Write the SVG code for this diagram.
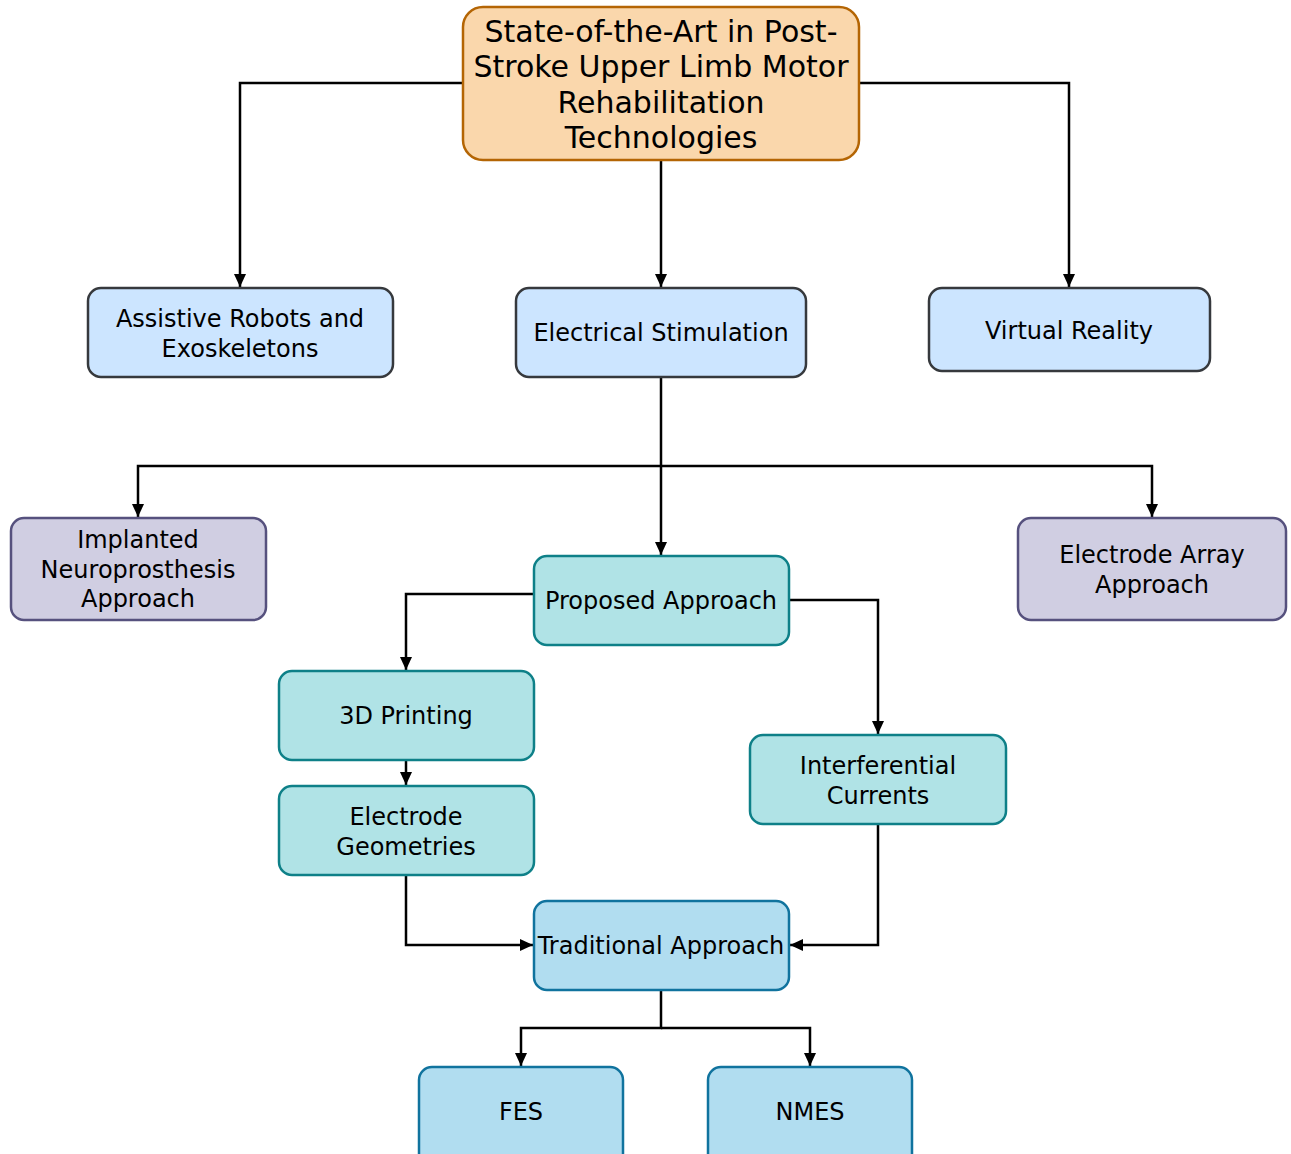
<svg xmlns="http://www.w3.org/2000/svg" width="1291" height="1154" viewBox="0 0 1291 1154">
<defs>
<marker id="arr" markerWidth="14" markerHeight="14" refX="13" refY="7" orient="auto" markerUnits="userSpaceOnUse">
<path d="M0,1 L13,7 L0,13 Z" fill="#000"/>
</marker>
<style>
text{font-family:"DejaVu Sans","Verdana",sans-serif;font-size:24px;fill:#000;text-anchor:middle}
.t{font-size:30px}
rect{stroke-width:2.5}
.o{fill:#fad7ac;stroke:#b46504}
.b{fill:#cce5ff;stroke:#36393d}
.p{fill:#d0cee2;stroke:#56517e}
.g{fill:#b0e3e6;stroke:#0e8088}
.c{fill:#b1ddf0;stroke:#10739e}
.e path{fill:none;stroke:#000;stroke-width:2.5;marker-end:url(#arr)}
</style>
</defs>
<rect width="1291" height="1154" fill="#fff"/>
<g class="e" id="connectors">
<path d="M463,83 H240 V287"/>
<path d="M859,83 H1069 V287"/>
<path d="M661,160 V287"/>
<path d="M661,377 V555"/>
<path d="M661,466 H138 V517"/>
<path d="M661,466 H1152 V517"/>
<path d="M534,594 H406 V670"/>
<path d="M789,600 H878 V734"/>
<path d="M406,760 V785"/>
<path d="M406,875 V945 H533"/>
<path d="M878,824 V945 H790"/>
<path d="M661,990 V1028 H521 V1066"/>
<path d="M661,1028 H810 V1066"/>
</g>
<g id="n-root"><rect class="o" x="463" y="7" width="396" height="153" rx="20"/>
<text class="t" x="661" y="42">State-of-the-Art in Post-</text>
<text class="t" x="661" y="77">Stroke Upper Limb Motor</text>
<text class="t" x="661" y="113">Rehabilitation</text>
<text class="t" x="661" y="148">Technologies</text></g>
<g id="n-assistive"><rect class="b" x="88" y="288" width="305" height="89" rx="13"/>
<text x="240" y="327">Assistive Robots and</text>
<text x="240" y="357">Exoskeletons</text></g>
<g id="n-es"><rect class="b" x="516" y="288" width="290" height="89" rx="13"/>
<text x="661" y="341">Electrical Stimulation</text></g>
<g id="n-vr"><rect class="b" x="929" y="288" width="281" height="83" rx="13"/>
<text x="1069" y="339">Virtual Reality</text></g>
<g id="n-implanted"><rect class="p" x="11" y="518" width="255" height="102" rx="13"/>
<text x="138" y="548">Implanted</text>
<text x="138" y="578">Neuroprosthesis</text>
<text x="138" y="607">Approach</text></g>
<g id="n-array"><rect class="p" x="1018" y="518" width="268" height="102" rx="13"/>
<text x="1152" y="563">Electrode Array</text>
<text x="1152" y="593">Approach</text></g>
<g id="n-proposed"><rect class="g" x="534" y="556" width="255" height="89" rx="13"/>
<text x="661" y="609">Proposed Approach</text></g>
<g id="n-3d"><rect class="g" x="279" y="671" width="255" height="89" rx="13"/>
<text x="406" y="724">3D Printing</text></g>
<g id="n-geom"><rect class="g" x="279" y="786" width="255" height="89" rx="13"/>
<text x="406" y="825">Electrode</text>
<text x="406" y="855">Geometries</text></g>
<g id="n-interf"><rect class="g" x="750" y="735" width="256" height="89" rx="13"/>
<text x="878" y="774">Interferential</text>
<text x="878" y="804">Currents</text></g>
<g id="n-trad"><rect class="c" x="534" y="901" width="255" height="89" rx="13"/>
<text x="661" y="954">Traditional Approach</text></g>
<g id="n-fes"><rect class="c" x="419" y="1067" width="204" height="100" rx="13"/>
<text x="521" y="1120">FES</text></g>
<g id="n-nmes"><rect class="c" x="708" y="1067" width="204" height="100" rx="13"/>
<text x="810" y="1120">NMES</text></g>
</svg>
